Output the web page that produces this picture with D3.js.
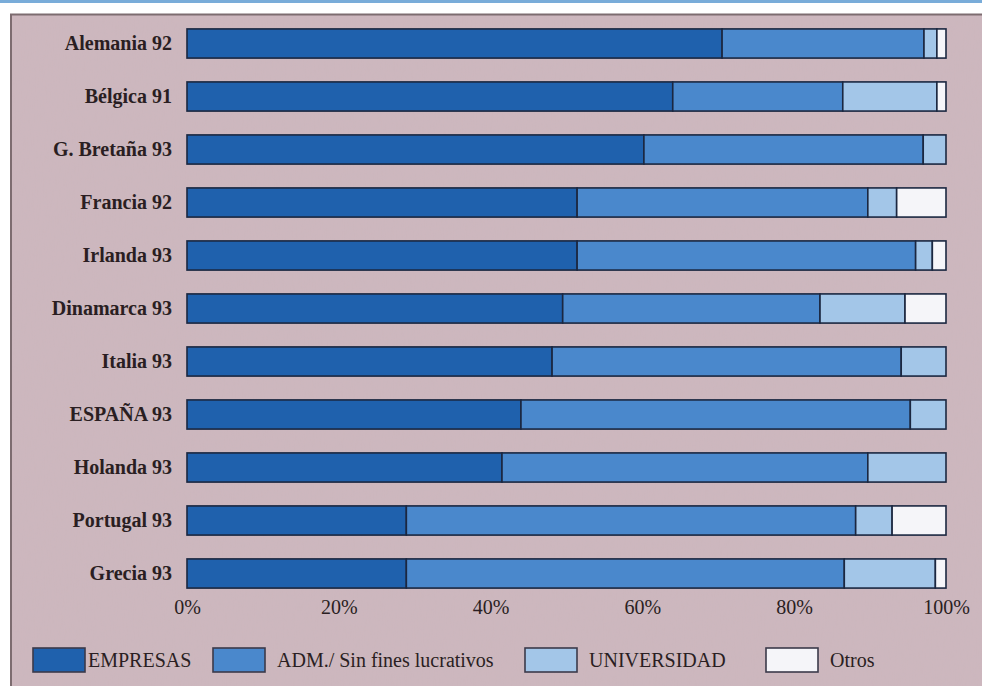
<!DOCTYPE html>
<html>
<head>
<meta charset="utf-8">
<script src="https://cdn.jsdelivr.net/npm/d3@7"></script>
<style>
  html, body { margin: 0; padding: 0; background: #ffffff; }
  svg { display: block; }
</style>
</head>
<body>
<svg id="chart" width="982" height="686"></svg>
<script>
// Gasto en I+D por sector de ejecución (% del total)
const countries = ["Alemania 92", "Bélgica 91", "G. Bretaña 93", "Francia 92", "Irlanda 93",
  "Dinamarca 93", "Italia 93", "ESPAÑA 93", "Holanda 93", "Portugal 93", "Grecia 93"];
const empresas    = [70.5, 64.0, 60.2, 51.4, 51.4, 49.5, 48.1, 44.0, 41.5, 28.9, 28.9];
const admSinFines = [26.6, 22.4, 36.8, 38.3, 44.6, 33.9, 46.0, 51.3, 48.2, 59.2, 57.7];
const universidad = [1.7, 12.4, 3.0, 3.8, 2.2, 11.2, 5.9, 4.7, 10.3, 4.8, 12.0];
const otros       = [1.2, 1.2, 0.0, 6.5, 1.8, 5.4, 0.0, 0.0, 0.0, 7.1, 1.4];
const seriesNames = ["EMPRESAS", "ADM./ Sin fines lucrativos", "UNIVERSIDAD", "Otros"];
const tickValues  = [0, 20, 40, 60, 80, 100];

const colors = ["#1f61ad", "#4a88cc", "#a3c6e8", "#f5f5f9"];
const serif = "'Liberation Serif', 'DejaVu Serif', serif";

const svg = d3.select("#chart");
const W = 982, H = 686;

// textured paper-like background
const defs = svg.append("defs");
const f = defs.append("filter").attr("id", "grain").attr("x", 0).attr("y", 0).attr("width", "100%").attr("height", "100%");
f.append("feTurbulence").attr("type", "fractalNoise").attr("baseFrequency", "0.9 0.08").attr("numOctaves", 2).attr("seed", 3).attr("result", "n");
f.append("feColorMatrix").attr("in", "n").attr("type", "matrix")
  .attr("values", "0 0 0 0 0.55  0 0 0 0 0.45  0 0 0 0 0.48  0 0 0 0.12 0");
f.append("feComposite").attr("in2", "SourceGraphic").attr("operator", "in");

// top rule and frame
svg.append("rect").attr("x", 0).attr("y", 0).attr("width", W).attr("height", 3).attr("fill", "#79acd9");
svg.append("rect").attr("x", 10).attr("y", 14).attr("width", W - 10).attr("height", H - 14).attr("fill", "#cdb7be");
svg.append("rect").attr("x", 10).attr("y", 14).attr("width", W - 10).attr("height", H - 14)
  .attr("fill", "#cdb7be").attr("filter", "url(#grain)");
svg.append("line").attr("x1", 10).attr("x2", W).attr("y1", 14.5).attr("y2", 14.5).attr("stroke", "#7d6c70").attr("stroke-width", 2);
svg.append("line").attr("x1", 11).attr("x2", 11).attr("y1", 14).attr("y2", H).attr("stroke", "#7d6c70").attr("stroke-width", 2);

const x = d3.scaleLinear().domain([0, 100]).range([187, 946]);
const y = d3.scaleBand().domain(countries).range([17, 600]).paddingInner(0.45).paddingOuter(0.225);

const rows = countries.map((c, i) => ({ country: c, s0: empresas[i], s1: admSinFines[i], s2: universidad[i], s3: otros[i] }));
const stack = d3.stack().keys(["s0", "s1", "s2", "s3"])(rows);

svg.append("g").selectAll("g").data(stack).join("g")
  .attr("fill", (d, i) => colors[i])
  .selectAll("rect").data(d => d.filter(p => p[1] - p[0] > 0)).join("rect")
  .attr("x", d => x(d[0]))
  .attr("y", d => y(d.data.country))
  .attr("width", d => x(d[1]) - x(d[0]))
  .attr("height", y.bandwidth())
  .attr("stroke", "#1b2740")
  .attr("stroke-width", 1.6);

// country labels
const yAxis = svg.append("g").attr("transform", "translate(178,0)")
  .call(d3.axisLeft(y).tickSize(0).tickPadding(6));
yAxis.select(".domain").remove();
yAxis.selectAll("text").attr("font-family", serif).attr("font-weight", "bold")
  .attr("font-size", 20).attr("fill", "#2a1e22").attr("dy", "0.34em");

// percentage axis
const xAxis = svg.append("g").attr("transform", "translate(0,596)")
  .call(d3.axisBottom(x).tickValues(tickValues).tickFormat(d => d + "%").tickSize(0).tickPadding(4));
xAxis.select(".domain").remove();
xAxis.selectAll("text").attr("font-family", serif).attr("font-size", 20).attr("fill", "#2a1e22");

// legend
const legendX = [33, 213, 525, 766];
const lg = svg.append("g").selectAll("g").data(seriesNames).join("g")
  .attr("transform", (d, i) => `translate(${legendX[i]},648)`);
lg.append("rect").attr("width", 52).attr("height", 24)
  .attr("fill", (d, i) => colors[i]).attr("stroke", "#3b3a4a").attr("stroke-width", 1.6);
lg.append("text").attr("x", (d, i) => i === 0 ? 55 : 64).attr("y", 12).attr("dy", "0.35em")
  .attr("font-family", serif).attr("font-size", 20).attr("fill", "#2a1e22")
  .text(d => d);
</script>
</body>
</html>
